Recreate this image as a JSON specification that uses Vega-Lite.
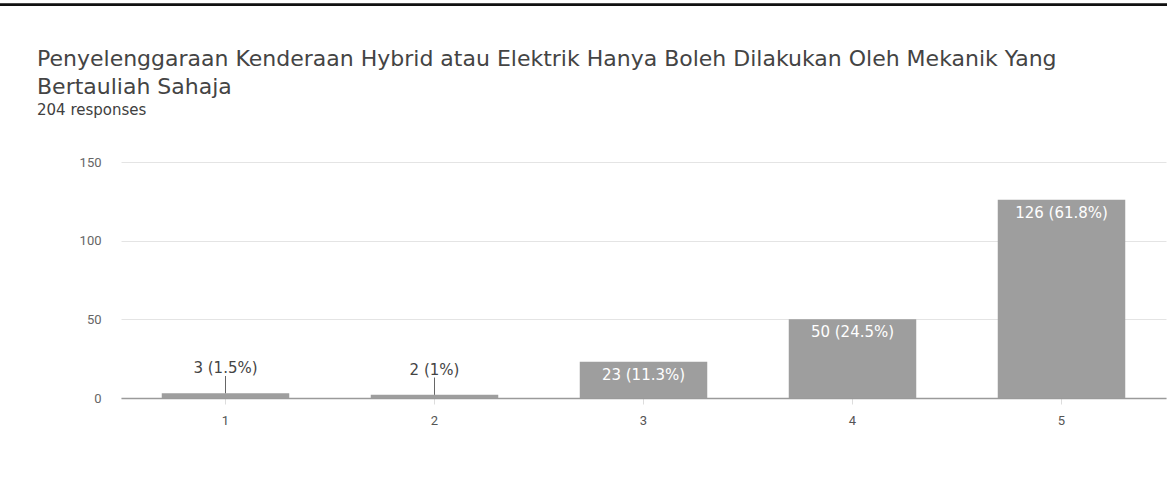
{
  "$schema": "https://vega.github.io/schema/vega-lite/v6.json",
  "width": 1045,
  "height": 236,
  "autosize": {"type": "none"},
  "padding": {"left": 121, "top": 162, "right": 1, "bottom": 99},
  "background": "white",
  "title": {
    "text": ["Penyelenggaraan Kenderaan Hybrid atau Elektrik Hanya Boleh Dilakukan Oleh Mekanik Yang", "Bertauliah Sahaja"],
    "subtitle": "204 responses",
    "anchor": "start",
    "frame": "group",
    "dx": -84,
    "offset": -115,
    "font": "DejaVu Sans",
    "fontSize": 22,
    "fontWeight": "normal",
    "color": "#444444",
    "lineHeight": 28,
    "subtitleFont": "DejaVu Sans",
    "subtitleFontSize": 15,
    "subtitleColor": "#404040",
    "subtitlePadding": 4
  },
  "data": {
    "values": [
      {"option": "1", "count": 3, "label": "3 (1.5%)"},
      {"option": "2", "count": 2, "label": "2 (1%)"},
      {"option": "3", "count": 23, "label": "23 (11.3%)"},
      {"option": "4", "count": 50, "label": "50 (24.5%)"},
      {"option": "5", "count": 126, "label": "126 (61.8%)"}
    ]
  },
  "encoding": {
    "x": {
      "field": "option",
      "type": "nominal",
      "sort": null,
      "scale": {"paddingInner": 0.39, "paddingOuter": 0.195},
      "axis": {
        "title": null,
        "labelAngle": 0,
        "labelFont": "Roboto",
        "labelFontSize": 13,
        "labelColor": "#555555",
        "labelPadding": 10,
        "domainColor": "#9a9a9a",
        "domainWidth": 1.5,
        "tickColor": "#dddddd",
        "tickSize": 6,
        "grid": false
      }
    }
  },
  "layer": [
    {
      "mark": {"type": "bar", "color": "#9e9e9e"},
      "encoding": {
        "y": {
          "field": "count",
          "type": "quantitative",
          "scale": {"domain": [0, 150], "nice": false},
          "axis": {
            "title": null,
            "values": [0, 25, 50, 75, 100, 125, 150],
            "labelExpr": "datum.value % 50 === 0 ? datum.label : ''",
            "labelFont": "Roboto",
            "labelFontSize": 13,
            "labelColor": "#666666",
            "labelPadding": 20,
            "ticks": false,
            "domain": false,
            "grid": true,
            "gridColor": {"condition": {"test": "datum.value % 50 === 0", "value": "#e4e4e4"}, "value": "#f3f3f3"}
          }
        }
      }
    },
    {
      "transform": [{"filter": "datum.count < 10"}, {"calculate": "datum.count + 11", "as": "lead"}],
      "mark": {"type": "rule", "color": "#666", "strokeWidth": 1},
      "encoding": {
        "y": {"field": "count", "type": "quantitative"},
        "y2": {"field": "lead"}
      }
    },
    {
      "transform": [{"filter": "datum.count < 10"}],
      "mark": {"type": "text", "baseline": "bottom", "dy": -17, "font": "DejaVu Sans", "fontSize": 15, "color": "#444"},
      "encoding": {
        "y": {"field": "count", "type": "quantitative"},
        "text": {"field": "label"}
      }
    },
    {
      "transform": [{"filter": "datum.count >= 10"}],
      "mark": {"type": "text", "baseline": "top", "dy": 6, "font": "DejaVu Sans", "fontSize": 15, "color": "white"},
      "encoding": {
        "y": {"field": "count", "type": "quantitative"},
        "text": {"field": "label"}
      }
    },
    {
      "mark": {"type": "rule", "color": "#111", "strokeWidth": 2},
      "encoding": {"y": {"datum": 250, "type": "quantitative"}, "x": {"value": -121}, "x2": {"value": 1050}}
    }
  ],
  "config": {"view": {"stroke": null}}
}
